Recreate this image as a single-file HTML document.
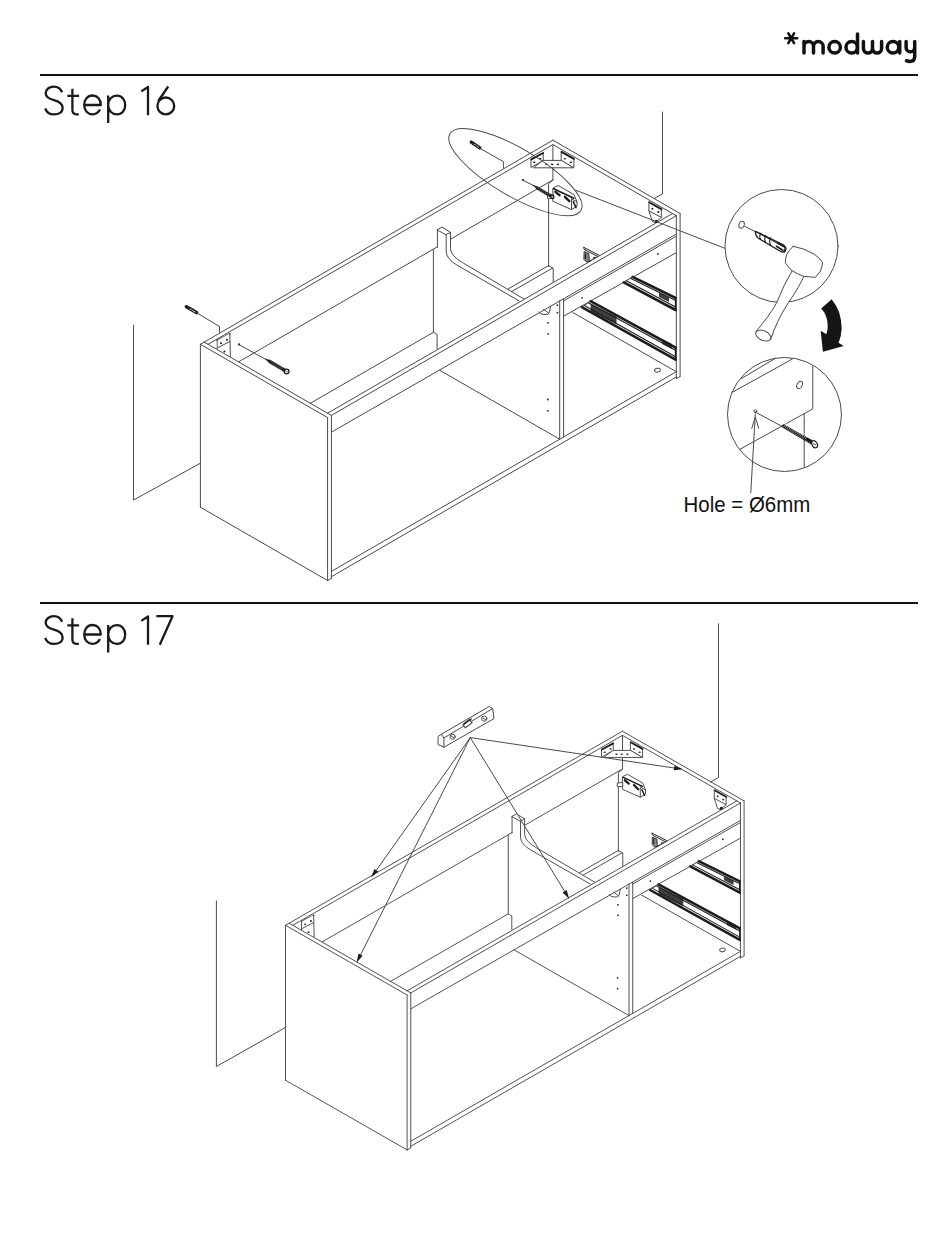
<!DOCTYPE html>
<html><head><meta charset="utf-8">
<style>
html,body{margin:0;padding:0;background:#fff;}
body{width:950px;height:1248px;overflow:hidden;position:relative;}
svg{position:absolute;left:0;top:0;}
</style></head><body>
<svg width="950" height="1248" viewBox="0 0 950 1248">
<defs>
<g id="cab" fill="none" stroke="#4a4a4a" stroke-width="1" stroke-linejoin="round" stroke-linecap="round">
<path d="M200.4,344.3 L200.4,507.2 M200.4,507.2 L327.6,580.5 M327.6,417.6 L327.6,580.5 M200.4,344.3 L327.6,417.6 M204.2,342.1 L331.4,415.4 M331.4,415.4 L331.4,578.3 M327.6,580.5 L331.4,578.3 M200.4,344.3 L552.9,140.2 M208,344.3 L552.9,144.6 M238.9,361.7 L437.4,246.8 M450.5,239.2 L552.9,179.9 M552.9,140.2 L680.1,213.5 M552.9,144.6 L676.3,215.7 M680.1,213.5 L680.1,376.4 M676.3,215.7 L676.3,378.6 M676.3,378.6 L680.1,376.4 M552.9,145.3 L552.9,180.2 L548.6,183.7 L548.6,266.5 M327.6,413.2 L672.5,213.5 M331.4,415.4 L676.3,215.7 M331.4,432.2 L675.6,234.4 M437.4,229.7 L442.1,227.1 L450.5,232.4 L446.1,234.5Z M437.4,229.7 L437.4,247.3 M433.4,249.4 L433.4,332.3 L437.1,334.4 L437.1,348.6 M446.2,234.5 V251.4 Q446.2,258.9 457,265.1 L519.1,300.9 M450.5,232.4 V248.5 Q450.5,255.7 462.7,262.7 L523.8,298.9 M310.3,403.3 L433.4,332.3 M508.2,288.9 L548.6,265.5 M512,291.4 L552.6,268 M548.6,265.5 L553.2,268.3 L553.2,282 M559.7,300.6 L559.7,439.2 M563.6,299 L563.6,436.9 M439.6,370.2 L559.7,439.2 M572.8,312.5 L676.3,371.7 M331.4,571.4 L676.3,371.7 M331.4,576.7 L676.3,377 M563.6,300.9 L675.6,236.6 M563.6,316.2 L675.6,253"/>
<path d="M217.5,340.6 L229.8,334" stroke="#1c1c1c" stroke-width="1.9"/>
<path d="M217.5,340.2 L217.5,349" stroke="#1c1c1c" stroke-width="1.4"/>
<path d="M217.5,340.2 L229.8,333.6 L230.4,356.3 L217.5,349Z" fill="#fff" stroke="none"/>
<path d="M229.8,333.6 L230.4,356.3"/>
<path d="M217.8,347.7 L229.8,341.5"/>
<circle cx="221" cy="343.3" r="1" fill="#1c1c1c" stroke="none"/>
<circle cx="227" cy="339.8" r="1" fill="#1c1c1c" stroke="none"/>
<circle cx="224.4" cy="351.5" r="1" fill="#1c1c1c" stroke="none"/>
<path d="M543.2,160.4 L561.5,160.4 L573.9,167.8 L533.8,167.8Z" fill="#fff"/>
<path d="M531.3,159.4 L543.2,153 L543.2,160.4 L531.3,167.3Z" fill="#fff"/>
<path d="M561.5,151.9 L573.9,158.8 L573.9,167.8 L561.5,160.4Z" fill="#fff"/>
<path d="M531.3,159.4 L543.2,153" stroke="#1c1c1c" stroke-width="1.9"/>
<path d="M561.5,151.9 L573.9,158.8" stroke="#1c1c1c" stroke-width="1.9"/>
<ellipse cx="546.6" cy="164.4" rx="1.2" ry="0.8" fill="#1c1c1c" stroke="none"/>
<ellipse cx="552.1" cy="164.4" rx="1.2" ry="0.8" fill="#1c1c1c" stroke="none"/>
<ellipse cx="558" cy="164.4" rx="1.2" ry="0.8" fill="#1c1c1c" stroke="none"/>
<ellipse cx="564.9" cy="158.8" rx="1.2" ry="0.8" fill="#1c1c1c" stroke="none"/>
<ellipse cx="570.9" cy="162.4" rx="1.2" ry="0.8" fill="#1c1c1c" stroke="none"/>
<ellipse cx="534.3" cy="162.4" rx="1.2" ry="0.8" fill="#1c1c1c" stroke="none"/>
<ellipse cx="540.3" cy="158.8" rx="1.2" ry="0.8" fill="#1c1c1c" stroke="none"/>
<path d="M649.2,202.2 L661.6,209.4" stroke="#1c1c1c" stroke-width="1.9"/>
<path d="M648.9,202 L648.9,210.8 L652.4,221.6 L655.5,222.5 L661.3,217.4 L661.3,209.2"/>
<path d="M648.9,210.8 L661.3,217.4"/>
<circle cx="652.4" cy="208.7" r="1" fill="#1c1c1c" stroke="none"/>
<circle cx="658.2" cy="212.1" r="1" fill="#1c1c1c" stroke="none"/>
<circle cx="656.3" cy="221.3" r="1.6" fill="#1c1c1c" stroke="none"/>
<path d="M553.2,188 L558.1,185.5 L574,194.7 L577,201.9 L577,206.3 L571.5,209.6 L553.2,201.4Z" fill="#fff"/>
<path d="M553.7,188.8 L573.8,198.2" stroke="#1c1c1c" stroke-width="1.6"/>
<path d="M571.5,198.8 L571.5,209.6"/>
<path d="M571.5,198.8 L577,201.9"/>
<path d="M555.4,191.8 L559.5,195.2" stroke="#1c1c1c" stroke-width="2.4"/>
<path d="M564.9,196.8 L569.3,201.2" stroke="#1c1c1c" stroke-width="2.4"/>
<path d="M573.3,201.7 L575.9,207.5" stroke="#1c1c1c" stroke-width="1.6"/>
<path d="M547.8,194.7 L553.2,194 L553.2,198.4 L547.8,198.4Z" fill="#fff"/>
<path d="M583.8,247.4 L599.1,255.2 M585.1,250 L597.7,256.4 M583.8,247.4 Q583,248.6 585.1,250" stroke="#1c1c1c" stroke-width="1"/>
<path d="M597.7,256.2 L590.3,260.6"/>
<path d="M584.5,251.8 L588.8,253.6 L589.2,259.2 L590.3,261.2 L586.6,262 L584.2,259.6 Z" fill="#888" stroke="#1c1c1c" stroke-width="0.9"/>
<path d="M585.4,254 L585.6,258.5" stroke="#222" stroke-width="1.2"/>
<circle cx="594.2" cy="257.6" r="0.9" fill="#1c1c1c" stroke="none"/>
<path d="M632.6,276.9 L675.6,298 L675.6,310 L623.8,282.3Z" fill="#fff" stroke="none"/>
<path d="M632.6,276.9 L675.6,298" stroke="#1c1c1c" stroke-width="2.6"/>
<path d="M623.8,282.3 L675.6,310" stroke="#1c1c1c" stroke-width="2.6"/>
<path d="M675.6,298 L675.6,310" stroke="#1c1c1c" stroke-width="1.5"/>
<path d="M630.4,278.2 L675.6,300.6" stroke="#1c1c1c" stroke-width="1.1"/>
<path d="M626.3,280.8 L675.6,307" stroke="#1c1c1c" stroke-width="1.1"/>
<path d="M632.6,276.9 L623.8,282.3"/>
<path d="M659,292.5 L669,297.5 L669,302 L659,297Z" fill="#1c1c1c" stroke="none" opacity="0.85"/>
<path d="M590.6,301.2 L675.6,347.6 L675.6,359.7 L581.8,307.2Z" fill="#fff" stroke="none"/>
<path d="M590.6,301.2 L675.6,347.6" stroke="#1c1c1c" stroke-width="2.6"/>
<path d="M581.8,307.2 L675.6,359.7" stroke="#1c1c1c" stroke-width="2.6"/>
<path d="M675.6,347.6 L675.6,359.7" stroke="#1c1c1c" stroke-width="1.5"/>
<path d="M588.4,302.7 L675.6,350.3" stroke="#1c1c1c" stroke-width="1.1"/>
<path d="M584.3,305.5 L675.6,356.7" stroke="#1c1c1c" stroke-width="1.1"/>
<path d="M590.6,301.2 L581.8,307.2"/>
<path d="M590.6,303.5 L616.5,316.5 L616.5,324.5 L590.6,311.5Z" fill="#1c1c1c" stroke="none" opacity="0.85"/>
<path d="M662,339 L672,344 L672,349 L662,344Z" fill="#1c1c1c" stroke="none" opacity="0.85"/>
<circle cx="557.4" cy="305.1" r="0.9" fill="#1c1c1c" stroke="none"/>
<circle cx="557.4" cy="312.7" r="0.9" fill="#1c1c1c" stroke="none"/>
<circle cx="548.1" cy="322.8" r="0.9" fill="#1c1c1c" stroke="none"/>
<circle cx="548.2" cy="333.8" r="0.9" fill="#1c1c1c" stroke="none"/>
<circle cx="547.8" cy="399.5" r="0.9" fill="#1c1c1c" stroke="none"/>
<circle cx="547.8" cy="410.8" r="0.9" fill="#1c1c1c" stroke="none"/>
<path d="M538.8,312.1 Q541,314.8 545,314.6 L547.7,314.2 L549.4,312.7 L550.6,306.2 M543.5,309.3 L549,313.5"/>
<circle cx="657.9" cy="253.9" r="0.9" fill="#1c1c1c" stroke="none"/>
<circle cx="582.1" cy="297.8" r="0.9" fill="#1c1c1c" stroke="none"/>
<ellipse cx="657.5" cy="370.2" rx="3" ry="1.9" transform="rotate(-10 657.5 370.2)"/>
</g>
</defs>
<g fill="none" stroke="#111" stroke-width="3.5" stroke-linecap="round" stroke-linejoin="round">
<path d="M785.2,38.2 H797.2 M788.35,33.3 L794.05,43.1 M794.05,33.3 L788.35,43.1" stroke-width="2.6"/>
<path d="M804,53 V41.5 M804,46.3 A4.75,4.75 0 0 1 813.5,46.3 V53 M813.5,46.3 A4.75,4.75 0 0 1 823.1,46.3 V53"/>
<circle cx="834.65" cy="47.25" r="5.75"/>
<circle cx="851.7" cy="47.25" r="5.75"/>
<path d="M857.5,33.9 V53"/>
<path d="M863.4,41.5 V48.5 A4.55,4.55 0 0 0 872.5,48.5 V41.5 M872.5,48.5 A4.55,4.55 0 0 0 881.6,48.5 V41.5"/>
<circle cx="893" cy="47.25" r="5.75"/>
<path d="M899.7,41.5 V53"/>
<path d="M906.1,41.5 V47.5 A4.3,4.3 0 0 0 914.7,47.5 M914.7,41.5 V56.5 Q914.7,61.5 909.5,61.5 L906.5,60.8"/>
</g>
<rect x="40" y="74" width="878" height="2" fill="#111"/>
<rect x="40" y="602" width="878" height="2" fill="#111"/>
<g fill="none" stroke="#1a1a1a" stroke-width="2.3" stroke-linecap="butt" stroke-linejoin="round">
<g id="stp">
<path d="M62.1,92.3 C60.5,88.5 57.5,86.6 53.9,86.6 C49.2,86.6 45.7,89.4 45.7,93.3 C45.7,97.3 49,98.9 54,100.2 C59.5,101.6 62.6,103.6 62.6,108 C62.6,112.3 58.8,114.4 54,114.4 C49.6,114.4 46.5,112.2 45.2,108.3"/>
<path d="M72.4,88.8 V110 Q72.4,114.3 76.5,114.3 H78.8 M67.3,95.8 H79.1"/>
<path d="M84.2,105 H100.8 C100.8,99 97.2,95.5 92.5,95.5 C87.5,95.5 84.2,99.8 84.2,105 C84.2,110.5 87.8,114.3 92.5,114.3 C95.8,114.3 98.5,112.5 100,109.5"/>
<path d="M108.2,95.4 V123 M108.2,105 C108.2,99.5 111.9,95.7 116.9,95.7 C122,95.7 125.2,99.8 125.2,105 C125.2,110.3 122,114.3 116.9,114.3 C111.9,114.3 108.2,110.5 108.2,105"/>
<path d="M148,115.2 V87 L141.3,91.4"/>
</g>
<path d="M168.2,86.5 L158.3,101"/>
<circle cx="165.8" cy="105.9" r="8.4"/>
<use href="#stp" transform="translate(0 529.5)"/>
<path d="M156.3,616.2 H172.5 L159.8,644.7"/>
</g>
<use href="#cab"/>
<use href="#cab" transform="translate(285.5 925.3) scale(0.956 0.951) translate(-200.4 -344.3)"/>
<g fill="none" stroke="#4a4a4a" stroke-width="1" stroke-linejoin="round" stroke-linecap="round">
<path d="M133.5,325.3 V500.1 L200.4,463.2"/>
<path d="M662.5,112 V193.8 L654.5,198.3"/>
<path d="M186.3,306.7 L196.6,312.6" stroke="#1c1c1c" stroke-width="3.4" stroke-linecap="round"/>
<path d="M189.2,308.5 L195,311.9" stroke="#fff" stroke-width="0.8"/>
<path d="M190,307.3 L189,309.3 M192.6,308.8 L191.6,310.8" stroke="#1c1c1c" stroke-width="0.8"/>
<path d="M197.4,313.2 L219.5,326.6 V332.4"/>
<circle cx="239" cy="344.4" r="1.1" fill="#1c1c1c" stroke="none"/>
<path d="M239,344.6 L267.4,360.3"/>
<path d="M265.5,359.0 L269.6,363.2 L284.2,371.8 L285.7,369.2 L271.1,360.6 Z" fill="#1c1c1c" stroke="#1c1c1c" stroke-width="0.5"/><path d="M271.3,363.4 L271.4,361.5 M273.0,364.4 L273.2,362.6 M274.7,365.5 L274.9,363.6 M276.5,366.5 L276.7,364.6 M278.2,367.5 L278.4,365.7 M280.0,368.6 L280.1,366.7 M281.7,369.6 L281.9,367.7" stroke="#888" stroke-width="0.45"/><circle cx="286.6" cy="371.5" r="2.4" fill="#fff" stroke="#1c1c1c" stroke-width="1.3"/><path d="M285.4,370.8 L287.8,372.2" stroke-width="0.9"/>
<ellipse cx="515.4" cy="172.2" rx="75.9" ry="23.9" transform="rotate(30.3 515.4 172.2)"/>
<path d="M471.2,142.1 L479.8,147.9" stroke="#1c1c1c" stroke-width="3.3" stroke-linecap="round"/>
<path d="M473.8,143.9 L478.4,147" stroke="#fff" stroke-width="0.8"/>
<path d="M474.3,142.8 L473.3,144.8 M476.7,144.4 L475.7,146.4" stroke="#1c1c1c" stroke-width="0.8"/>
<path d="M480.4,148.6 L503.4,161.6 V168"/>
<circle cx="523.1" cy="180.1" r="1.1" fill="#1c1c1c" stroke="none"/>
<path d="M523.1,180.3 L533.6,185.6"/>
<path d="M533.0,185.3 L536.9,189.2 L550.6,197.5 L552.0,195.2 L538.2,186.9 Z" fill="#1c1c1c" stroke="#1c1c1c" stroke-width="0.5"/><path d="M538.5,189.4 L538.5,187.8 M540.2,190.5 L540.3,188.9 M542.0,191.6 L542.1,189.9 M543.8,192.7 L543.9,191.0 M545.6,193.7 L545.6,192.1 M547.3,194.8 L547.4,193.1 M549.1,195.9 L549.2,194.2" stroke="#888" stroke-width="0.45"/><circle cx="552.4" cy="197.0" r="1.6" fill="#fff" stroke="#1c1c1c" stroke-width="1.3"/><path d="M551.6,196.5 L553.2,197.5" stroke-width="0.9"/>
<path d="M575.7,190.2 L724.6,248.2"/>
<circle cx="781.5" cy="246" r="56.5" fill="#fff"/>
<ellipse cx="741.6" cy="224.7" rx="2.6" ry="3.5" transform="rotate(20 741.6 224.7)"/>
<path d="M744.7,226.3 L755.3,231.6"/>
<path d="M755.5,231.4 L783.8,245.2 Q787.6,248.2 784.6,252 L781.2,251.8 L758.3,238.2 Q755,235.5 755.5,231.4 Z" fill="#fff" stroke="#1c1c1c" stroke-width="1.3"/>
<path d="M757.5,232.5 L783,246.5" stroke="#1c1c1c" stroke-width="0.9"/>
<path d="M761,233.2 Q758.8,236 760.5,239.3 M765.8,235.5 Q763.8,238.5 765.5,242.2 M770.5,237.8 Q768.8,241 770.5,244.8" stroke="#1c1c1c" stroke-width="1.1"/>
<path d="M777.5,243 L784,246.6 M776.5,246.2 L782.8,250.2" stroke="#1c1c1c" stroke-width="1.6"/>
<path d="M784.2,246.5 Q786.5,248.5 784.2,251.2" stroke="#1c1c1c" stroke-width="1.6"/>
<path d="M792.2,270.7 Q784,284 776.7,302.7 Q770,315 756,331.5 L770.8,339.2 Q776,322 788.5,302.4 Q800,286 804,275.8 Z" fill="#fff" stroke="none"/>
<path d="M792.2,270.7 Q784,284 776.7,302.7 Q770,315 756,331.5 M804,275.8 Q800,286 788.5,302.4 Q776,322 770.8,339.2"/>
<ellipse cx="763.3" cy="335.6" rx="8" ry="4.8" transform="rotate(25 763.3 335.6)" fill="#fff"/>
<path d="M793.2,246.3 Q804,248 814.2,254.2 Q820,258 822.6,262.6 Q822,267 820.5,271 L815.3,277.4 L803.7,276.3 Q797,274 792.1,270.5 Q787.5,267 785.3,262.6 Q785.5,258 786.8,254.2 Q789.5,249.5 793.2,246.3 Z" fill="#fff"/>
<path d="M821.2,308.5 L831.6,299.3 Q837,306 839.2,312.4 Q841.5,320 841.7,328.2 Q841.4,336 838.6,342.7 L843.7,346.1 L822.9,351.7 L820.7,330.7 L826.3,334.3 Q827.9,330 827.7,325.9 Q827.5,318 824.3,312.4 Z" fill="#151515" stroke="none"/>
<circle cx="784.5" cy="414.5" r="57" fill="#fff"/>
<path d="M732.3,392.3 L792.2,359.1 M741.5,378.5 L775.6,358.2"/>
<path d="M812.8,366.5 V408.9 L739.6,449.5"/>
<path d="M804.2,413.5 V467"/>
<ellipse cx="799.6" cy="385" rx="2.6" ry="3.8" transform="rotate(25 799.6 385)"/>
<circle cx="755.3" cy="411.3" r="1.4"/>
<path d="M755.3,412 L782,426.4"/>
<path d="M782,426.4 L783.5,424.6 L812.5,440.8 L811.2,443.6 Z" fill="#1c1c1c" stroke="#1c1c1c" stroke-width="0.9" stroke-linejoin="round"/>
<path d="M786.2,423.3 L783.8,426.7 M787.9,424.2 L785.5,427.6 M789.5,425.2 L787.1,428.6 M791.2,426.1 L788.8,429.5 M792.8,427.0 L790.4,430.4 M794.5,428.0 L792.1,431.4 M796.1,428.9 L793.7,432.3 M797.8,429.8 L795.4,433.2 M799.4,430.7 L797.0,434.1 M801.1,431.7 L798.7,435.1 M802.7,432.6 L800.3,436.0 M804.4,433.5 L802.0,436.9 M806.0,434.5 L803.6,437.9 M807.7,435.4 L805.3,438.8" stroke="#fff" stroke-width="0.55"/>
<ellipse cx="814.6" cy="444.3" rx="2.6" ry="3.8" transform="rotate(-30 814.6 444.3)" fill="#fff" stroke="#1c1c1c" stroke-width="1.2"/>
<path d="M813,443.5 L816,445" stroke="#1c1c1c" stroke-width="0.8"/>
<path d="M750.8,492.6 L755.3,414 M751.8,428.3 L755.3,417 L758.7,428.3"/>
<path d="M216.4,901 V1066.5 L285.6,1027.4"/>
<path d="M718.5,623.7 V777.5 L710.6,782"/>
<path d="M438.4,736.3 L441.4,734.2 L489.4,706.4 L492.7,708.5 L494,718.6 L443.9,747.2 L438.4,744.7 Z" fill="#fff"/>
<path d="M441.4,734.2 L443.9,738 L492.7,708.5 M443.9,738 V747.2"/>
<path d="M462.8,724.5 L469.5,719.6 L472.1,722.6 L465.4,727.8 Z" fill="#fff" stroke-width="1.2"/>
<path d="M464.3,723.9 L471,719" stroke="#1c1c1c" stroke-width="1.5"/>
<circle cx="452.7" cy="736.7" r="2.6"/><circle cx="484.3" cy="718.6" r="2.6"/>
<path d="M451.2,736 L454,737.8 M482.8,718 L485.6,719.6"/>
<path d="M470.3,737.6 L376.3,870.3"/><path d="M371.1,877.6 L374.4,868.9 L378.2,871.6 Z" fill="#1c1c1c" stroke="none"/>
<path d="M470.3,737.6 L360.6,954.7"/><path d="M356.5,962.7 L358.5,953.6 L362.6,955.7 Z" fill="#1c1c1c" stroke="none"/>
<path d="M470.3,737.6 L564.6,891.2"/><path d="M569.3,898.9 L562.6,892.4 L566.6,890.0 Z" fill="#1c1c1c" stroke="none"/>
<path d="M470.3,737.6 L674.1,768.0"/><path d="M683.0,769.3 L673.8,770.2 L674.4,765.7 Z" fill="#1c1c1c" stroke="none"/>
</g>
<text x="683.6" y="511.6" font-family="Liberation Sans" font-size="22.6" textLength="126.6" lengthAdjust="spacingAndGlyphs" fill="#111">Hole = &#216;6mm</text>
</svg>
</body></html>
